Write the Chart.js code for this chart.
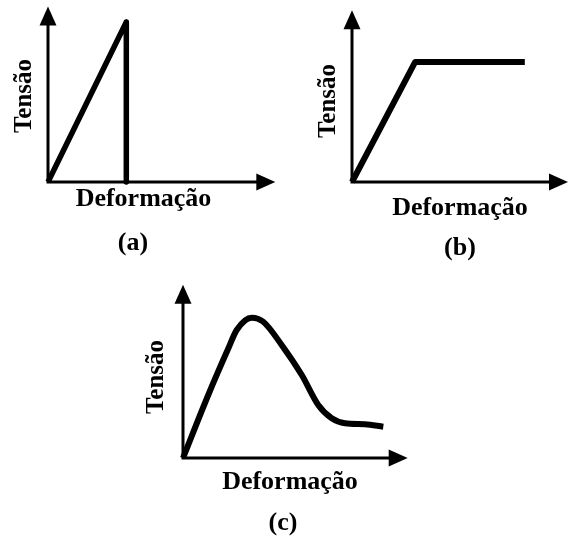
<!DOCTYPE html>
<html lang="pt">
<head>
<meta charset="UTF-8">
<title>Tensão x Deformação</title>
<script src="https://cdn.jsdelivr.net/npm/chart.js"></script>
<style>
  html, body { margin: 0; padding: 0; background: #fff; overflow: hidden; }
  canvas { position: absolute; }
</style>
</head>
<body>
<canvas id="gA" width="290" height="260" style="left:0px;top:0px"></canvas>
<canvas id="gB" width="271" height="265" style="left:300px;top:0px"></canvas>
<canvas id="gC" width="280" height="267" style="left:140px;top:270px"></canvas>

<script>
// curvas tensão x deformação (unidades arbitrárias, eixos de 0 a 10)
const deformacaoA = [0, 4.1, 4.1];
const tensaoA     = [0, 9.3, 0];

const deformacaoB = [0, 2.92, 8.0];
const tensaoB     = [0, 7.4, 7.4];

const deformacaoC = [0, 1.18, 2.12, 2.51, 3.21, 3.75, 4.61, 5.55, 6.32, 6.95, 7.57, 8.50, 9.36];
const tensaoC     = [0, 3.89, 6.77, 7.90, 8.66, 8.41, 6.98, 5.12, 3.27, 2.45, 2.14, 2.08, 1.93];

const rotuloX = 'Deformação';
const rotuloY = 'Tensão';
const legendas = ['(a)', '(b)', '(c)'];

const fonte = "'Liberation Serif', 'Times New Roman', serif";

// desenha os eixos com setas (antes das curvas)
const setas = {
  id: 'setas',
  beforeDatasetsDraw(chart, args, opts) {
    const { ctx, scales: { x, y } } = chart;
    const x0 = x.getPixelForValue(0);
    const y0 = y.getPixelForValue(0);
    const xFim = x.getPixelForValue(opts.xFim);
    const yFim = y.getPixelForValue(opts.yFim);
    const comp = 19, meia = 8.5;
    ctx.save();
    ctx.strokeStyle = '#000';
    ctx.fillStyle = '#000';
    ctx.lineWidth = 3;
    ctx.beginPath();
    ctx.moveTo(x0, yFim + comp - 2);
    ctx.lineTo(x0, y0);
    ctx.lineTo(xFim - comp + 2, y0);
    ctx.stroke();
    ctx.beginPath();
    ctx.moveTo(xFim, y0);
    ctx.lineTo(xFim - comp, y0 - meia);
    ctx.lineTo(xFim - comp, y0 + meia);
    ctx.closePath();
    ctx.fill();
    ctx.beginPath();
    ctx.moveTo(x0, yFim);
    ctx.lineTo(x0 - meia, yFim + comp);
    ctx.lineTo(x0 + meia, yFim + comp);
    ctx.closePath();
    ctx.fill();
    ctx.restore();
  }
};

function grafico(id, xs, ys, legenda, p) {
  const pontos = xs.map((v, i) => ({ x: v, y: ys[i] }));
  return new Chart(document.getElementById(id), {
    type: 'line',
    data: {
      datasets: [{
        data: pontos,
        borderColor: '#000',
        borderWidth: p.espessura,
        borderJoinStyle: 'round',
        pointRadius: 0,
        cubicInterpolationMode: p.suave ? 'monotone' : 'default',
        tension: 0,
        clip: false
      }]
    },
    options: {
      responsive: false,
      animation: false,
      events: [],
      layout: { autoPadding: false, padding: p.margem },
      scales: {
        x: {
          type: 'linear', min: 0, max: 10,
          ticks: { display: false },
          grid: { display: false, drawTicks: false },
          border: { display: false },
          title: {
            display: true, text: rotuloX, color: '#000',
            font: { family: fonte, size: 26, weight: 'bold', lineHeight: 1 },
            padding: { top: p.padX, bottom: 0 }
          }
        },
        y: {
          type: 'linear', min: 0, max: 10,
          ticks: { display: false },
          grid: { display: false, drawTicks: false },
          border: { display: false },
          title: {
            display: true, text: rotuloY, color: '#000',
            font: { family: fonte, size: 25, weight: 'bold', lineHeight: 1 },
            padding: p.padY
          }
        }
      },
      plugins: {
        legend: { display: false },
        tooltip: { enabled: false },
        title: {
          display: true, position: 'bottom', text: legenda, color: '#000',
          font: { family: fonte, size: 26, weight: 'bold', lineHeight: 1 },
          padding: { top: p.padLegenda, bottom: 0 }
        },
        setas: { xFim: p.xFim, yFim: p.yFim }
      }
    },
    plugins: [setas]
  });
}

grafico('gA', deformacaoA, tensaoA, legendas[0], {
  espessura: 5.5, suave: false,
  margem: { left: 27, right: 51, top: 10, bottom: 4 },
  padY: { top: -14.5, bottom: 10.5 }, padX: 4, padLegenda: 18,
  xFim: 11.9, yFim: 10.2
});

grafico('gB', deformacaoB, tensaoB, legendas[1], {
  espessura: 6, suave: false,
  margem: { left: 52, right: 3, top: 20, bottom: 4 },
  padY: { top: -35.5, bottom: 10.5 }, padX: 13, padLegenda: 14,
  xFim: 10, yFim: 10.6
});

grafico('gC', deformacaoC, tensaoC, legendas[2], {
  espessura: 6, suave: true,
  margem: { left: 29, right: 23, top: 26, bottom: 1 },
  padY: { top: -24.5, bottom: 13.5 }, padX: 11, padLegenda: 15,
  xFim: 10.5, yFim: 10.7
});
</script>
</body>
</html>
